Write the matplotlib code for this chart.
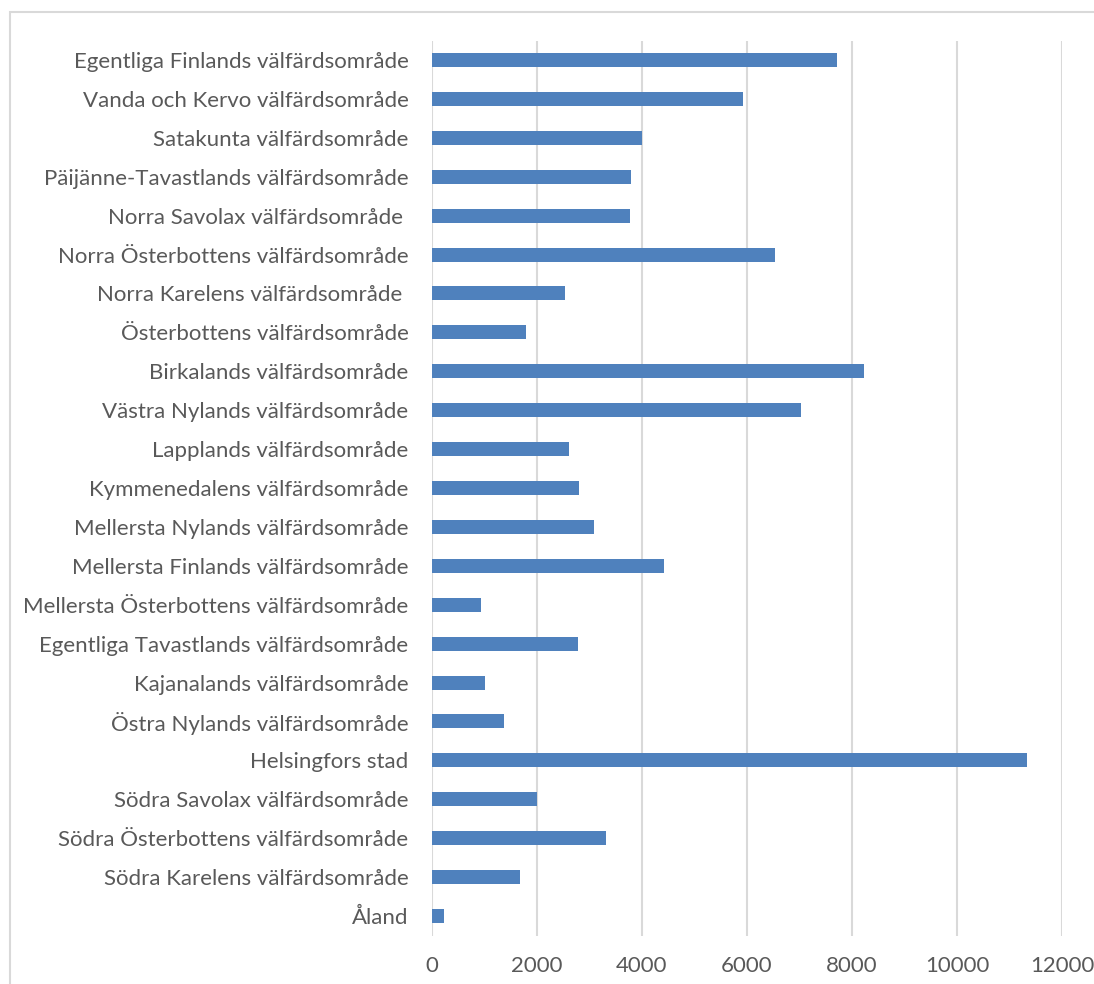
import matplotlib.pyplot as plt
from matplotlib.patches import Rectangle

# Regions, top to bottom as in the chart
regions = [
    "Egentliga Finlands välfärdsområde",
    "Vanda och Kervo välfärdsområde",
    "Satakunta välfärdsområde",
    "Päijänne-Tavastlands välfärdsområde",
    "Norra Savolax välfärdsområde ",
    "Norra Österbottens välfärdsområde",
    "Norra Karelens välfärdsområde ",
    "Österbottens välfärdsområde",
    "Birkalands välfärdsområde",
    "Västra Nylands välfärdsområde",
    "Lapplands välfärdsområde",
    "Kymmenedalens välfärdsområde",
    "Mellersta Nylands välfärdsområde",
    "Mellersta Finlands välfärdsområde",
    "Mellersta Österbottens välfärdsområde",
    "Egentliga Tavastlands välfärdsområde",
    "Kajanalands välfärdsområde",
    "Östra Nylands välfärdsområde",
    "Helsingfors stad",
    "Södra Savolax välfärdsområde",
    "Södra Österbottens välfärdsområde",
    "Södra Karelens välfärdsområde",
    "Åland",
]
values = [7720, 5930, 4006, 3797, 3778, 6540, 2540, 1797, 8235, 7035, 2616,
          2806, 3092, 4425, 939, 2787, 1016, 1377, 11333, 2000, 3314, 1676, 229]

x_ticks = [0, 2000, 4000, 6000, 8000, 10000, 12000]

plt.rcParams['font.family'] = ['Lato', 'DejaVu Sans']

fig = plt.figure(figsize=(10.94, 9.84), dpi=100)

# outer chart frame
fig.patches.append(Rectangle((10 / 1094, -0.1), 1.2, 1.1 - 12 / 984,
                             transform=fig.transFigure, fill=False,
                             edgecolor='#d9d9d9', linewidth=1.5))

ax = fig.add_axes([432 / 1094, 1 - 935.5 / 984, 630 / 1094, 895 / 984])

pos = list(range(len(regions)))
ax.barh(pos, values, height=0.36, color='#4f81bd', zorder=3)

ax.set_ylim(len(regions) - 0.5, -0.5)
ax.set_xlim(0, 12000)
ax.set_yticks(pos)
ax.set_yticklabels(regions)
ax.set_xticks(x_ticks)
ax.set_xticklabels([str(t) for t in x_ticks])

ax.tick_params(axis='y', length=0, pad=17, labelsize=16, labelcolor='#595959')
ax.tick_params(axis='x', length=0, pad=15, labelsize=16, labelcolor='#595959')

ax.xaxis.grid(True, color='#d9d9d9', linewidth=1.5, zorder=0)
for s in ax.spines.values():
    s.set_visible(False)

fig.savefig('out.png', dpi=100)
